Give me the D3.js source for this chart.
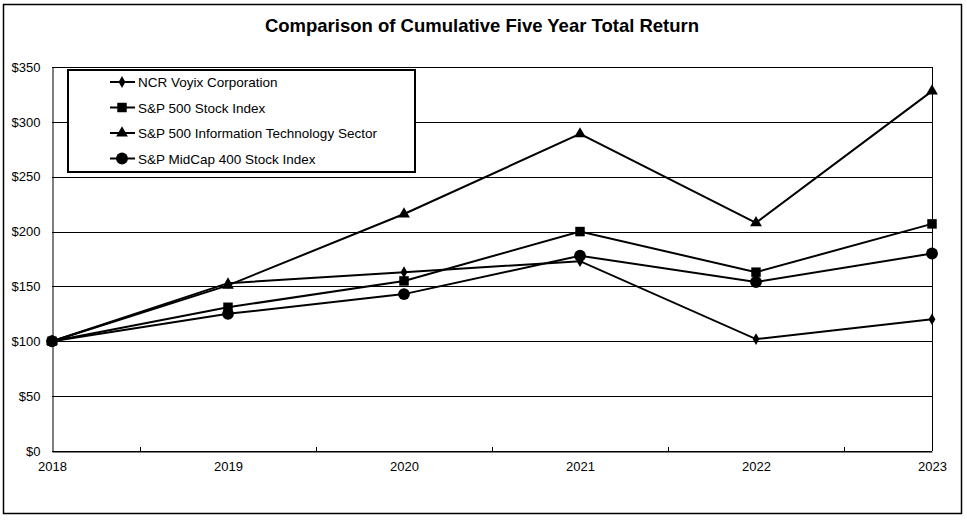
<!DOCTYPE html>
<html>
<head>
<meta charset="utf-8">
<script src="https://cdn.jsdelivr.net/npm/d3@7"></script>
<style>
body { margin: 0; background: #fff; }
text { font-family: Arial, "Liberation Sans", sans-serif; fill: #000; }
</style>
</head>
<body>
<div id="chart"></div>
<script>
var years = [2018, 2019, 2020, 2021, 2022, 2023];
var seriesNames = ["NCR Voyix Corporation", "S&P 500 Stock Index", "S&P 500 Information Technology Sector", "S&P MidCap 400 Stock Index"];
var ncr = [100, 153, 163, 173, 102, 120];
var sp500 = [100, 131, 155, 200, 163, 207];
var spTech = [100, 151, 216, 289, 208, 328];
var midCap = [100, 125, 143, 178, 154, 180];
var yTicks = [0, 50, 100, 150, 200, 250, 300, 350];
var markers = ["diamond", "square", "triangle", "circle"];

var allSeries = [ncr, sp500, spTech, midCap];

var W = 967, H = 521;
var plotL = 52, plotR = 932, plotT = 67, plotB = 451;

var svg = d3.select("#chart").append("svg")
	.attr("width", W)
	.attr("height", H);

// outer frame
svg.append("rect")
	.attr("x", 3.5).attr("y", 4.5)
	.attr("width", 958).attr("height", 509)
	.attr("fill", "none").attr("stroke", "#000").attr("stroke-width", 1.5);

svg.append("text")
	.attr("x", 482).attr("y", 32)
	.attr("text-anchor", "middle")
	.style("font-size", "18.5px").style("font-weight", "bold")
	.text("Comparison of Cumulative Five Year Total Return");

var x = d3.scalePoint().domain(years).range([plotL, plotR]);
var y = d3.scaleLinear().domain([0, 350]).range([plotB, plotT]);

// gridlines
svg.append("g").selectAll("line").data(yTicks).enter().append("line")
	.attr("x1", plotL).attr("x2", plotR)
	.attr("y1", function(d){ return Math.round(y(d)) + 0.5; })
	.attr("y2", function(d){ return Math.round(y(d)) + 0.5; })
	.attr("stroke", "#000").attr("stroke-width", 1);

// right border of plot area
svg.append("line")
	.attr("x1", plotR + 0.5).attr("x2", plotR + 0.5)
	.attr("y1", plotT).attr("y2", plotB)
	.attr("stroke", "#000");

// y axis
var yAxis = svg.append("g")
	.attr("transform", "translate(" + (plotL + 0.5) + ",0)")
	.call(d3.axisLeft(y).tickValues(yTicks).tickSize(0).tickPadding(12)
		.tickFormat(function(d){ return "$" + d; }));
yAxis.select(".domain").attr("stroke", "#000");
yAxis.selectAll("text").style("font-size", "13px");

// x axis
var xAxis = svg.append("g")
	.attr("transform", "translate(0," + (Math.round(plotB) + 0.5) + ")")
	.call(d3.axisBottom(x).tickSize(0).tickPadding(10));
xAxis.select(".domain").attr("stroke", "#000");
xAxis.selectAll("text").style("font-size", "13px");

// minor ticks between years
var mids = d3.pairs(years).map(function(p){ return (x(p[0]) + x(p[1])) / 2; });
svg.append("g").selectAll("line").data(mids).enter().append("line")
	.attr("x1", function(d){ return Math.round(d) + 0.5; })
	.attr("x2", function(d){ return Math.round(d) + 0.5; })
	.attr("y1", plotB - 4).attr("y2", plotB)
	.attr("stroke", "#000");

var symbolTypes = {
	diamond: d3.symbol().type(d3.symbolDiamond).size(40),
	square: d3.symbol().type(d3.symbolSquare).size(90),
	triangle: d3.symbol().type(d3.symbolTriangle).size(60),
	circle: d3.symbol().type(d3.symbolCircle).size(110)
};

var line = d3.line()
	.x(function(d, i){ return x(years[i]); })
	.y(function(d){ return y(d); });

// draw in reverse so NCR sits on top
allSeries.slice().reverse().forEach(function(vals, k){
	var idx = allSeries.length - 1 - k;
	svg.append("path")
		.attr("d", line(vals))
		.attr("fill", "none").attr("stroke", "#000").attr("stroke-width", 2);
	svg.append("g").selectAll("path").data(vals).enter().append("path")
		.attr("d", symbolTypes[markers[idx]])
		.attr("transform", function(d, i){ return "translate(" + x(years[i]) + "," + y(d) + ")"; })
		.attr("fill", "#000");
});

// legend
var legend = svg.append("g");
legend.append("rect")
	.attr("x", 68).attr("y", 70)
	.attr("width", 347).attr("height", 102)
	.attr("fill", "#fff").attr("stroke", "#000").attr("stroke-width", 2);

seriesNames.forEach(function(name, i){
	var ly = 82 + i * 25.5;
	legend.append("line")
		.attr("x1", 110).attr("x2", 135)
		.attr("y1", ly).attr("y2", ly)
		.attr("stroke", "#000").attr("stroke-width", 2);
	legend.append("path")
		.attr("d", symbolTypes[markers[i]])
		.attr("transform", "translate(122," + ly + ")")
		.attr("fill", "#000");
	legend.append("text")
		.attr("x", 138).attr("y", ly + 5)
		.style("font-size", "13.5px")
		.text(name);
});
</script>
</body>
</html>
